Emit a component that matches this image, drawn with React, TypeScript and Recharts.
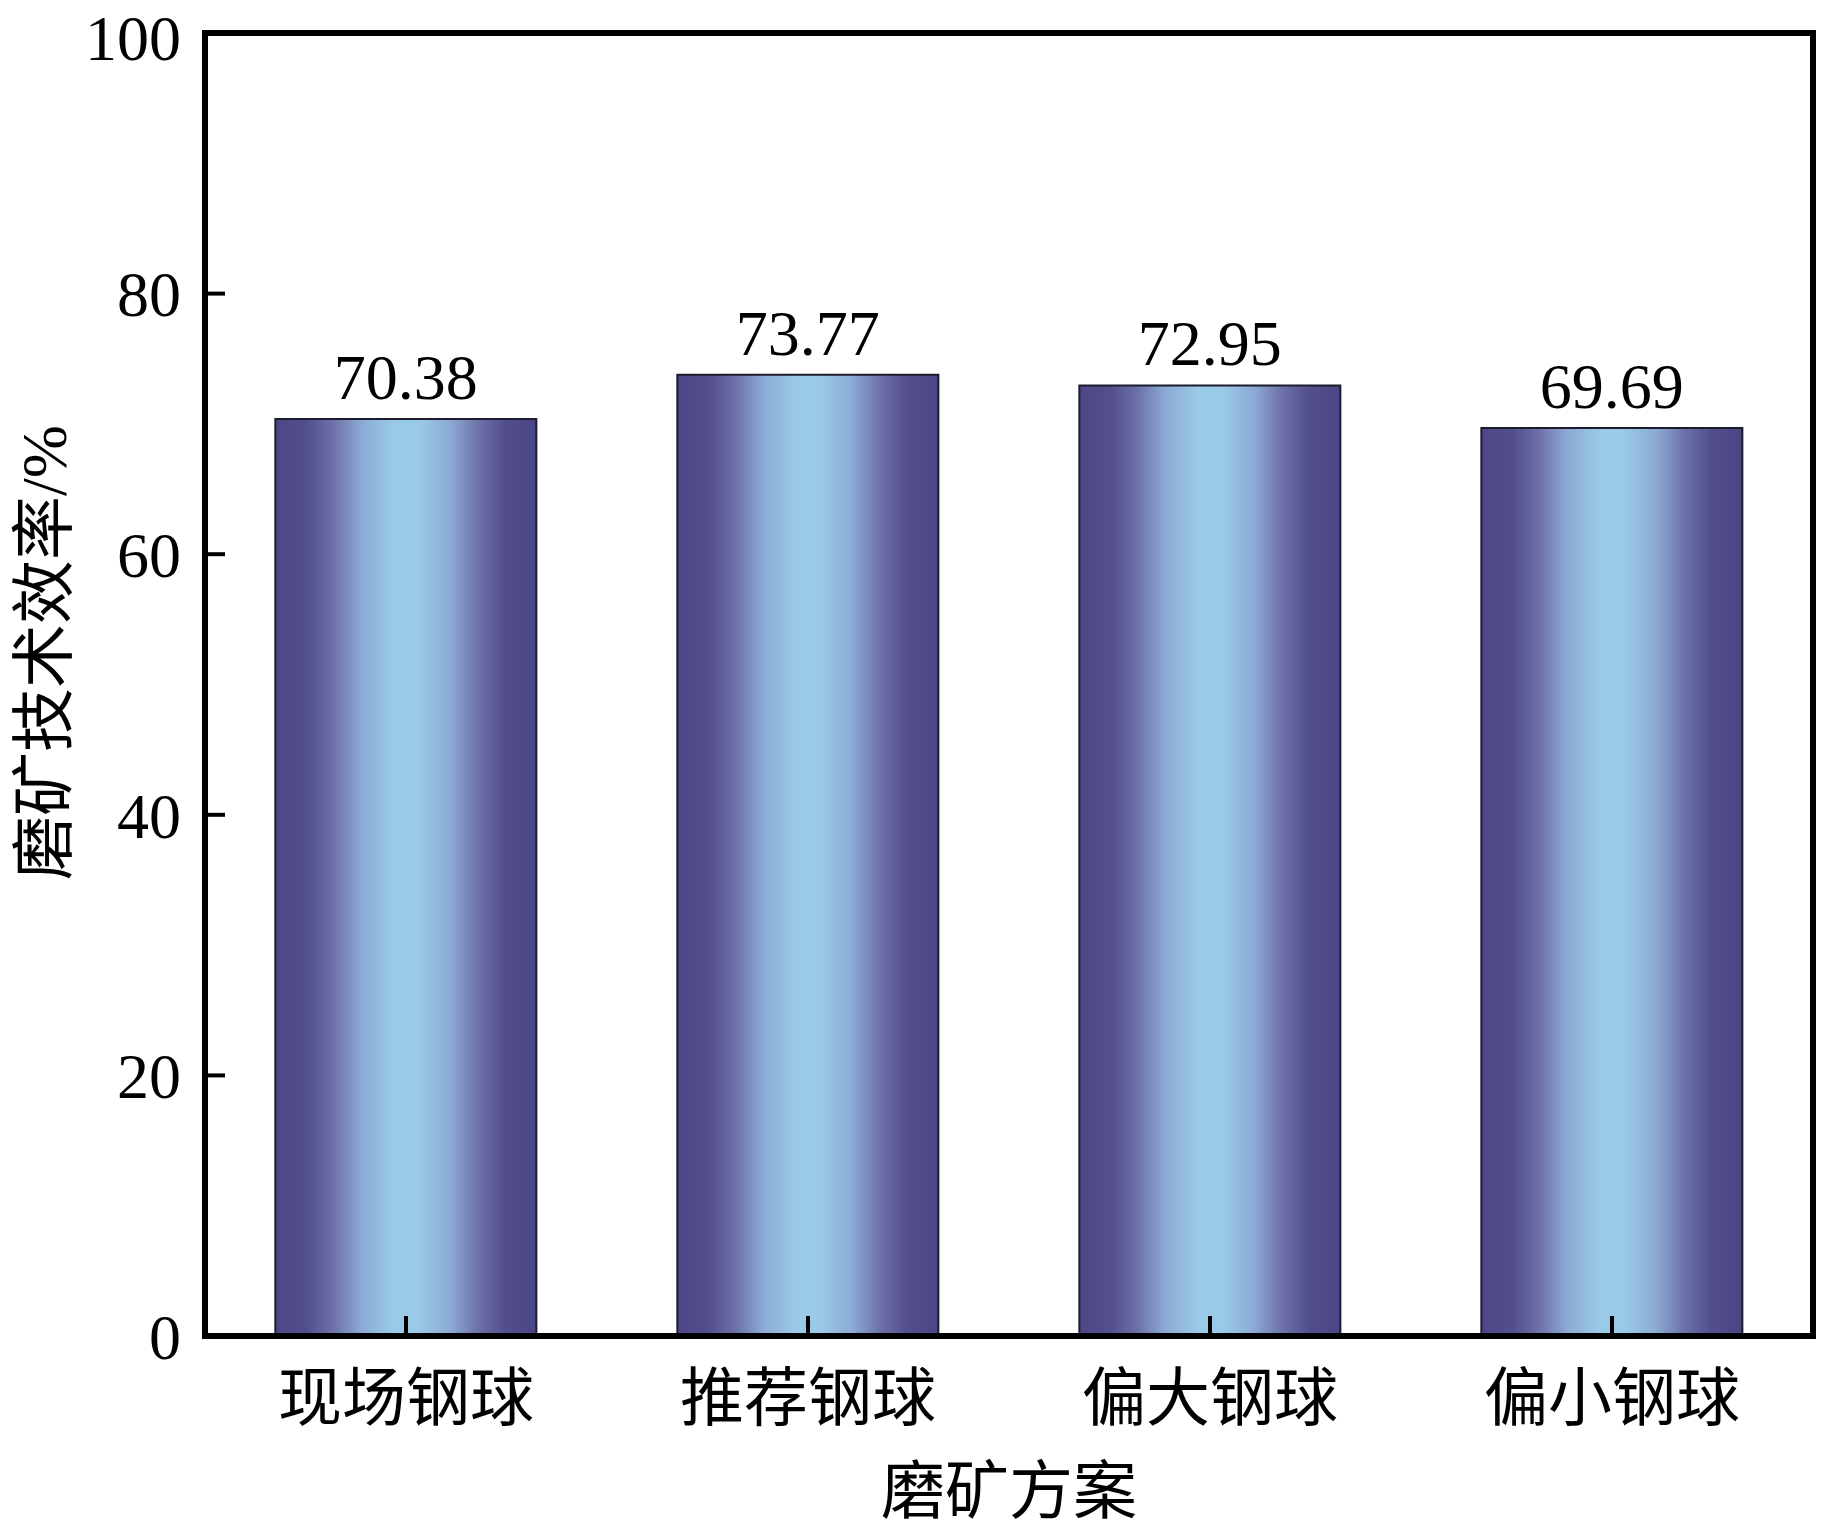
import React from 'react';
import { BarChart, Bar, XAxis, YAxis, LabelList, Label, ReferenceArea } from 'recharts';

const categories = ['现场钢球', '推荐钢球', '偏大钢球', '偏小钢球'];
const efficiency = [70.38, 73.77, 72.95, 69.69];
const yTicks = [0, 20, 40, 60, 80, 100];
const xTitle = '磨矿方案';
const yTitle = '磨矿技术效率/%';

const data = categories.map((name, i) => ({ name, value: efficiency[i] }));

const FONT = "'Liberation Serif', 'Noto Sans CJK SC', serif";
const FS = 64;
const axisLine = { stroke: '#000', strokeWidth: 6 };

const YTitle = (props: any) => {
  const vb = props.viewBox || {};
  const cx = vb.x + 44;
  const cy = vb.y + vb.height / 2 - 32;
  return (
    <text
      x={cx}
      y={cy}
      transform={`rotate(-90 ${cx} ${cy})`}
      textAnchor="middle"
      dominantBaseline="central"
      fontFamily={FONT}
      fontSize={FS}
      fill="#000"
    >
      {yTitle}
    </text>
  );
};

export default function App() {
  return (
    <div style={{ position: 'absolute', left: 0, top: 0, background: '#fff' }}>
      <BarChart
        width={1843}
        height={1539}
        data={data}
        margin={{ top: 33, right: 30, left: 0, bottom: 0 }}
        barCategoryGap="17.5%"
      >
        <defs>
          <linearGradient id="barGrad" x1="0" y1="0" x2="1" y2="0">
            <stop offset="0%" stopColor="#4C4888" />
            <stop offset="12%" stopColor="#534F8F" />
            <stop offset="22%" stopColor="#6C70A8" />
            <stop offset="33%" stopColor="#8CAAD4" />
            <stop offset="45%" stopColor="#99CAE7" />
            <stop offset="55%" stopColor="#99CAE7" />
            <stop offset="67%" stopColor="#8CAAD4" />
            <stop offset="78%" stopColor="#6C70A8" />
            <stop offset="88%" stopColor="#534F8F" />
            <stop offset="100%" stopColor="#4A4685" />
          </linearGradient>
        </defs>
        <XAxis
          dataKey="name"
          height={203}
          axisLine={axisLine}
          tickLine={{ stroke: '#000', strokeWidth: 4 }}
          tickSize={-20}
          tickMargin={59}
          tick={{ fill: '#000', fontFamily: FONT, fontSize: FS }}
          interval={0}
        >
          <Label
            value={xTitle}
            position="insideBottom"
            offset={26}
            fill="#000"
            fontFamily={FONT}
            fontSize={FS}
          />
        </XAxis>
        <YAxis
          domain={[0, 100]}
          ticks={yTicks}
          width={205}
          axisLine={axisLine}
          tickLine={{ stroke: '#000', strokeWidth: 4 }}
          tickSize={-20}
          tickMargin={44}
          tick={{ fill: '#000', fontFamily: FONT, fontSize: FS }}
          label={<YTitle />}
        />
        <Bar
          dataKey="value"
          fill="url(#barGrad)"
          stroke="#1C1C2C"
          strokeWidth={2}
          isAnimationActive={false}
        >
          <LabelList
            dataKey="value"
            position="top"
            offset={20}
            fill="#000"
            fontFamily={FONT}
            fontSize={FS}
            formatter={(v: any) => Number(v).toFixed(2)}
          />
        </Bar>
        <ReferenceArea
          y1={0}
          y2={100}
          fill="none"
          fillOpacity={0}
          stroke="#000"
          strokeWidth={6}
          strokeOpacity={1}
          ifOverflow="visible"
        />
      </BarChart>
    </div>
  );
}
